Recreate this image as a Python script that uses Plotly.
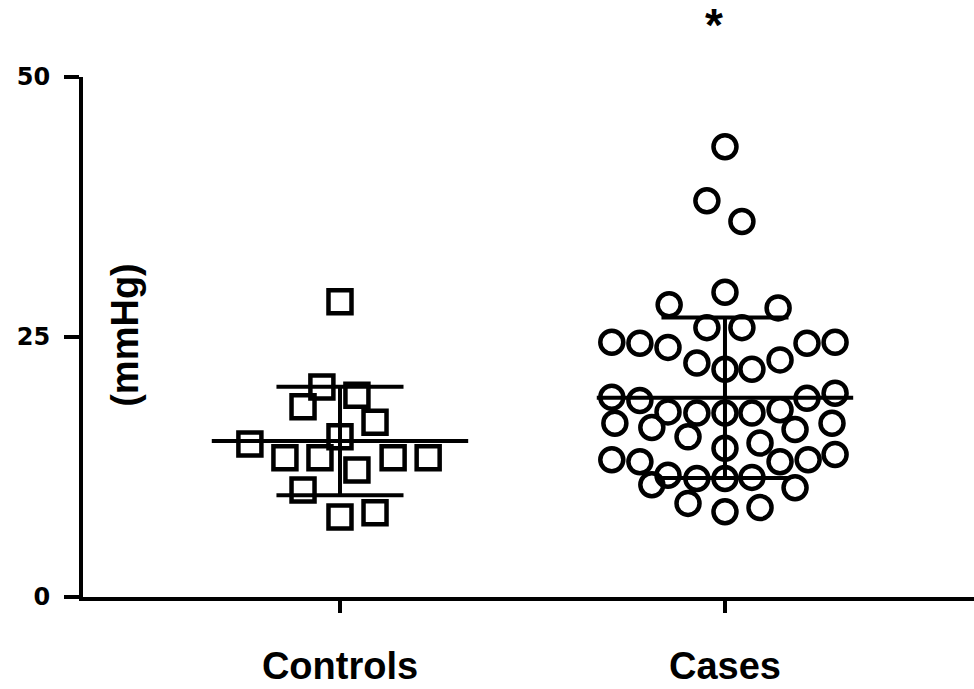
import numpy as np
import plotly.graph_objects as go

# Group labels and y-axis ticks
groups = ["Controls", "Cases"]
y_ticks = [0, 25, 50]
y_tick_labels = ["0", "25", "50"]

# Individual measurements (mmHg) and their horizontal swarm offsets
controls_values = [28.4, 20.2, 19.4, 18.3, 16.8, 15.4, 14.7, 13.4, 13.4, 13.4,
                   13.4, 12.2, 10.3, 7.7, 8.1]
controls_offsets = [0.0, -0.047, 0.044, -0.096, 0.091, 0.0, -0.234, -0.143, -0.052,
                    0.138, 0.229, 0.044, -0.096, 0.0, 0.091]

cases_values = [43.3, 38.1, 36.1, 29.3, 28.1, 27.8, 25.9, 25.9,
                24.5, 24.4, 24.0, 24.4, 24.5,
                22.5, 21.9, 21.9, 22.8,
                19.2, 18.9, 19.1, 19.6,
                17.8, 17.7, 17.7, 17.7, 18.0,
                16.7, 16.3, 16.1, 16.7,
                15.4, 14.8, 14.3,
                13.2, 13.0, 13.0, 13.2, 13.7,
                11.7, 11.4, 11.4, 11.5,
                10.8, 10.5,
                9.0, 8.2, 8.6]
cases_offsets = [0.0, -0.047, 0.044, 0.0, -0.145, 0.138, -0.047, 0.044,
                 -0.294, -0.221, -0.148, 0.213, 0.286,
                 -0.073, 0.0, 0.070, 0.143,
                 -0.294, -0.221, 0.213, 0.286,
                 -0.148, -0.073, 0.0, 0.070, 0.143,
                 -0.286, -0.190, 0.182, 0.278,
                 -0.096, 0.091, 0.0,
                 -0.294, -0.221, 0.143, 0.216, 0.286,
                 -0.148, -0.073, 0.0, 0.070,
                 -0.190, 0.182,
                 -0.096, 0.0, 0.091]

FONT = "Liberation Sans"
TICK_FONT = "DejaVu Sans"
MEAN_HALF = 0.333
SD_HALF = 0.165
LW = 4

fig = go.Figure()

series = [
    (1, controls_values, controls_offsets, "square-open", 23),
    (2, cases_values, cases_offsets, "circle-open", 23),
]

for pos, vals, offs, symbol, size in series:
    vals = np.asarray(vals, dtype=float)
    offs = np.asarray(offs, dtype=float)
    fig.add_trace(go.Scatter(
        x=pos + offs, y=vals, mode="markers",
        marker=dict(symbol=symbol, size=size, color="black",
                    line=dict(color="black", width=4.5)),
        showlegend=False, hoverinfo="y",
    ))
    mean = vals.mean()
    sd = vals.std(ddof=1)
    # mean line, SD whiskers and caps
    xs = [pos - MEAN_HALF, pos + MEAN_HALF, None,
          pos, pos, None,
          pos - SD_HALF, pos + SD_HALF, None,
          pos - SD_HALF, pos + SD_HALF]
    ys = [mean, mean, None,
          mean - sd, mean + sd, None,
          mean + sd, mean + sd, None,
          mean - sd, mean - sd]
    fig.add_trace(go.Scatter(
        x=xs, y=ys, mode="lines",
        line=dict(color="black", width=LW),
        showlegend=False, hoverinfo="skip",
    ))

fig.add_annotation(
    text="(mmHg)", textangle=-90, xref="paper", yref="y",
    x=0.047, y=25.2, xanchor="center", yanchor="middle", showarrow=False,
    font=dict(family=FONT, size=38, color="black", weight="bold"),
)
fig.add_annotation(
    text="*", xref="x", yref="paper", x=1.971, y=1.153,
    showarrow=False,
    font=dict(family=FONT, size=46, color="black", weight="bold"),
)

fig.update_layout(
    width=974, height=689,
    margin=dict(l=83, r=0, t=77, b=92, autoexpand=False),
    plot_bgcolor="white", paper_bgcolor="white",
    xaxis=dict(
        range=[0.3325, 2.6468], tickvals=[1, 2], ticktext=groups,
        showgrid=False, zeroline=False, showline=True,
        linecolor="black", linewidth=LW, automargin=False,
        ticks="outside", ticklen=12, tickwidth=LW, tickcolor="black",
        tickfont=dict(family=FONT, size=38, color="black", weight="bold"),
        ticklabelstandoff=20,
    ),
    yaxis=dict(
        range=[0, 50], tickvals=y_ticks, ticktext=y_tick_labels,
        showgrid=False, zeroline=False, showline=True,
        linecolor="black", linewidth=LW, automargin=False,
        ticks="outside", ticklen=15, tickwidth=LW, tickcolor="black",
        tickfont=dict(family=TICK_FONT, size=24, color="black", weight="bold"),
        ticklabelstandoff=9,
    ),
)

fig.write_html("out.html")
